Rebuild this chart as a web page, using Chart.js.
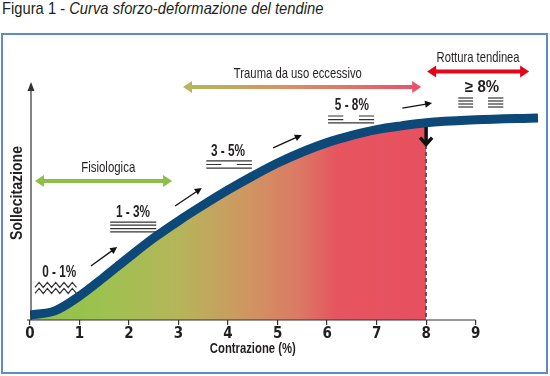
<!DOCTYPE html>
<html>
<head>
<meta charset="utf-8">
<script src="https://cdn.jsdelivr.net/npm/chart.js@4.4.0/dist/chart.umd.min.js"></script>
<style>
  html, body { margin: 0; padding: 0; background: #fff; }
  #page { position: relative; width: 550px; height: 376px; overflow: hidden; }
  #title {
    position: absolute; left: 2px; top: -1px;
    font-family: "Liberation Sans", Arial, sans-serif;
    font-size: 17px; color: #231f20; white-space: nowrap;
    transform-origin: 0 0;
  }
  #box { position: absolute; left: 1px; top: 33px; width: 543px; height: 337px; border: 2px solid #5d8cc6; }
  #chart { position: absolute; left: 0; top: 0; }
</style>
</head>
<body>
<div id="page">
  <div id="title">Figura 1 - <i>Curva sforzo-deformazione del tendine</i></div>
  <div id="box"></div>
  <canvas id="chart" width="550" height="376"></canvas>
</div>
<script>
// strain (%) on x, stress (arbitrary units 0-100) on y
const xTicks = [0, 1, 2, 3, 4, 5, 6, 7, 8, 9];
const strainPct = [0, 0.5, 1, 1.5, 2, 2.5, 3, 3.5, 4, 4.5, 5, 5.5, 6, 6.5, 7, 7.5, 8, 9, 10.26];
const stress = [2.1, 3.8, 10, 17.9, 26.2, 34.2, 41.3, 47.9, 54.2, 60, 65.4, 70, 73.9, 76.9, 79.3, 80.9, 82.2, 83.4, 84.2];
const ruptureAt = 8;

const xTitle = 'Contrazione (%)';
const yTitle = 'Sollecitazione';

// zone labels and their double arrows (x in %, y in stress units)
const zoneLabels = ['Fisiologica', 'Trauma da uso eccessivo', 'Rottura tendinea'];
const zoneLabelPos = [[1.58, 63.5], [5.41, 102.5], [9.05, 109.2]];
const zoneLabelWidth = [54, 128, 83];
const zoneArrows = [[0.1, 2.87, 57.9], [3.09, 7.9, 97.1], [8.02, 10.08, 103.5]];

// fibre labels
const fibreLabels = ['0 - 1%', '1 - 3%', '3 - 5%', '5 - 8%', '\u2265 8%'];
const fibreLabelPos = [[0.59, 19.6], [2.08, 44.6], [4.0, 70], [6.5, 89.2], [9.13, 96.7]];

// small arrows along the curve [x1, y1, x2, y2]
const stepArrows = [[1.23, 22.5, 1.76, 30.4], [2.93, 47.5, 3.47, 55], [4.91, 71.7, 5.49, 77.1], [7.52, 88.3, 8.12, 90.4]];

const SANS = '"Liberation Sans", Arial, sans-serif';
const COND = '"DejaVu Sans Condensed", "Liberation Sans", sans-serif';
const INK = '#231f20';

const fillStops = [[0, '#8fc24a'], [1.4, '#9cc24e'], [3, '#b5b55a'], [4.4, '#d09562'], [5.4, '#db7a64'], [6.2, '#e5555f'], [8, '#e8505f']];

const curve = strainPct.map((x, i) => ({ x: x, y: stress[i] }));
const healthyPart = curve.filter(p => p.x <= ruptureAt);

// squeeze the title to the width of the original condensed type
const titleEl = document.getElementById('title');
titleEl.style.transform = 'scaleX(' + (321 / titleEl.offsetWidth) + ')';

function fillGradient(context) {
    const chart = context.chart;
    if (!chart.chartArea) return '#b5b55a';
    const xs = chart.scales.x;
    const g = chart.ctx.createLinearGradient(xs.getPixelForValue(0), 0, xs.getPixelForValue(ruptureAt), 0);
    fillStops.forEach(s => g.addColorStop(s[0] / ruptureAt, s[1]));
    return g;
}

function arrowHead(ctx, x1, y1, x2, y2, len, half) {
    const a = Math.atan2(y2 - y1, x2 - x1);
    ctx.beginPath();
    ctx.moveTo(x2, y2);
    ctx.lineTo(x2 - len * Math.cos(a) + half * Math.sin(a), y2 - len * Math.sin(a) - half * Math.cos(a));
    ctx.lineTo(x2 - len * Math.cos(a) - half * Math.sin(a), y2 - len * Math.sin(a) + half * Math.cos(a));
    ctx.closePath();
    ctx.fill();
}

function doubleArrow(ctx, xa, xb, y, color, len, half, thick) {
    ctx.fillStyle = color;
    ctx.strokeStyle = color;
    ctx.lineWidth = thick;
    ctx.beginPath();
    ctx.moveTo(xa + len - 1, y);
    ctx.lineTo(xb - len + 1, y);
    ctx.stroke();
    arrowHead(ctx, xb, y, xa, y, len, half);
    arrowHead(ctx, xa, y, xb, y, len, half);
}

function hLines(ctx, x1, x2, ys, split) {
    ys.forEach((y, i) => {
        ctx.beginPath();
        if (split[i]) {
            const w = (x2 - x1) * 0.33;
            ctx.moveTo(x1, y); ctx.lineTo(x1 + w, y);
            ctx.moveTo(x2 - w, y); ctx.lineTo(x2, y);
        } else {
            ctx.moveTo(x1, y); ctx.lineTo(x2, y);
        }
        ctx.stroke();
    });
}

const annotate = {
    id: 'annotate',
    afterDraw(chart) {
        const ctx = chart.ctx;
        const xs = chart.scales.x, ys = chart.scales.y;
        const px = v => xs.getPixelForValue(v);
        const py = v => ys.getPixelForValue(v);
        ctx.save();

        // axes
        ctx.strokeStyle = '#333';
        ctx.fillStyle = '#333';
        ctx.lineWidth = 1.2;
        ctx.beginPath();
        ctx.moveTo(px(0) - 3, py(0));
        ctx.lineTo(px(9), py(0));
        ctx.stroke();
        ctx.beginPath();
        ctx.moveTo(px(0) + 1, py(0));
        ctx.lineTo(px(0) + 1, py(100) + 4);
        ctx.stroke();
        arrowHead(ctx, px(0) + 1, py(90), px(0) + 1, py(100) + 2, 9, 3.5);

        // axis titles
        ctx.fillStyle = INK;
        ctx.textAlign = 'center';
        ctx.textBaseline = 'middle';
        ctx.font = 'bold 14px ' + SANS;
        ctx.fillText(xTitle, (px(0) + px(9)) / 2, xs.bottom - 11, 86);
        ctx.save();
        ctx.translate(xs.left - 12, (py(0) + py(100)) / 2 - 7);
        ctx.rotate(-Math.PI / 2);
        ctx.font = 'bold 16px ' + SANS;
        ctx.fillText(yTitle, 0, 0, 94);
        ctx.restore();

        // rupture marker
        ctx.strokeStyle = '#222';
        ctx.setLineDash([4, 3]);
        ctx.beginPath();
        ctx.moveTo(px(ruptureAt), py(72.9));
        ctx.lineTo(px(ruptureAt), py(0));
        ctx.stroke();
        ctx.setLineDash([]);
        ctx.strokeStyle = '#111';
        ctx.lineWidth = 3.5;
        ctx.lineCap = 'butt';
        ctx.beginPath();
        ctx.moveTo(px(ruptureAt), py(80.4));
        ctx.lineTo(px(ruptureAt), py(73));
        ctx.stroke();
        ctx.beginPath();
        ctx.moveTo(px(ruptureAt) - 6, py(76));
        ctx.lineTo(px(ruptureAt), py(73.2));
        ctx.lineTo(px(ruptureAt) + 6, py(76));
        ctx.stroke();

        // zone arrows
        doubleArrow(ctx, px(zoneArrows[0][0]), px(zoneArrows[0][1]), py(zoneArrows[0][2]), '#8dbf48', 9, 6, 4);
        const ta = zoneArrows[1];
        const tg = ctx.createLinearGradient(px(ta[0]), 0, px(ta[1]), 0);
        tg.addColorStop(0, '#b3b85a');
        tg.addColorStop(0.45, '#d99060');
        tg.addColorStop(1, '#e9506a');
        doubleArrow(ctx, px(ta[0]), px(ta[1]), py(ta[2]), tg, 9, 6, 4);
        doubleArrow(ctx, px(zoneArrows[2][0]), px(zoneArrows[2][1]), py(zoneArrows[2][2]), '#e2061b', 9, 6, 4);

        // zone labels
        ctx.fillStyle = INK;
        ctx.font = '15px ' + SANS;
        zoneLabels.forEach((t, i) => ctx.fillText(t, px(zoneLabelPos[i][0]), py(zoneLabelPos[i][1]), zoneLabelWidth[i]));

        // fibre labels
        ctx.font = 'bold 16px ' + SANS;
        fibreLabels.forEach((t, i) => ctx.fillText(t, px(fibreLabelPos[i][0]), py(fibreLabelPos[i][1]), 34));

        // fibre symbols
        ctx.strokeStyle = '#333';
        ctx.lineWidth = 1.2;
        [14.6, 12.1].forEach(yv => {
            ctx.beginPath();
            const x1 = px(0.1), x2 = px(1.01), yc = py(yv);
            let k = 0;
            for (let x = x1; x <= x2 + 0.1; x += 4.15, k++) {
                const y = yc + (k % 2 ? -2.5 : 2.5);
                if (k === 0) ctx.moveTo(x, y); else ctx.lineTo(x, y);
            }
            ctx.stroke();
        });
        hLines(ctx, px(1.62), px(2.55), [40.8, 39.5, 38.1, 36.7].map(py), [0, 0, 0, 0]);
        hLines(ctx, px(3.56), px(4.48), [66.3, 64.8, 63.3].map(py), [0, 1, 0]);
        hLines(ctx, px(6.02), px(6.95), [85, 83.5, 82.1].map(py), [1, 1, 0]);
        hLines(ctx, px(8.65), px(8.95), [92.5, 91.25, 90, 88.75].map(py), [0, 0, 0, 0]);
        hLines(ctx, px(9.25), px(9.56), [92.5, 91.25, 90, 88.75].map(py), [0, 0, 0, 0]);

        // step arrows
        ctx.strokeStyle = '#111';
        ctx.fillStyle = '#111';
        ctx.lineWidth = 1.3;
        stepArrows.forEach(a => {
            const x1 = px(a[0]), y1 = py(a[1]), x2 = px(a[2]), y2 = py(a[3]);
            ctx.beginPath();
            ctx.moveTo(x1, y1);
            ctx.lineTo(x2 - (x2 - x1) * 0.15, y2 - (y2 - y1) * 0.15);
            ctx.stroke();
            arrowHead(ctx, x1, y1, x2, y2, 7, 3.5);
        });
        ctx.restore();
    }
};

new Chart(document.getElementById('chart'), {
    type: 'line',
    data: {
        datasets: [
            {
                label: 'Curva',
                data: curve,
                borderColor: '#0c4878',
                borderWidth: 9,
                pointRadius: 0,
                cubicInterpolationMode: 'monotone',
                fill: false
            },
            {
                label: 'Area',
                data: healthyPart,
                borderWidth: 0,
                borderColor: 'rgba(0,0,0,0)',
                pointRadius: 0,
                cubicInterpolationMode: 'monotone',
                backgroundColor: fillGradient,
                fill: 'origin'
            }
        ]
    },
    options: {
        responsive: false,
        animation: false,
        layout: { padding: { left: 8, top: 80, right: 10, bottom: 16 } },
        plugins: { legend: { display: false }, tooltip: { enabled: false } },
        scales: {
            x: {
                type: 'linear',
                min: 0,
                max: 10.3,
                afterBuildTicks: s => { s.ticks = xTicks.map(v => ({ value: v })); },
                afterFit: s => { s.height = 40; },
                border: { display: false },
                grid: { drawOnChartArea: false, tickLength: 5, color: '#333', lineWidth: 1.2 },
                ticks: { color: INK, padding: 0, maxRotation: 0, autoSkip: false, font: { family: COND, size: 15, weight: 'bold' } }
            },
            y: {
                min: 0,
                max: 100,
                afterFit: s => { s.width = 22; },
                border: { display: false },
                grid: { display: false },
                ticks: { display: false }
            }
        }
    },
    plugins: [annotate]
});
</script>
</body>
</html>
